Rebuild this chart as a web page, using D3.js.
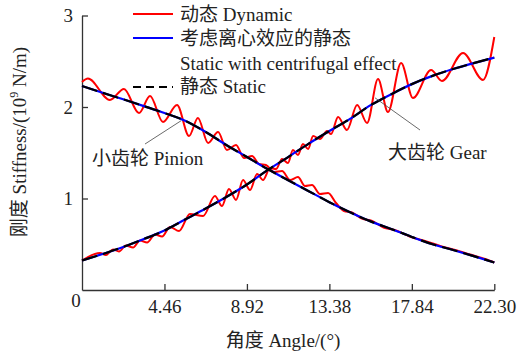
<!DOCTYPE html>
<html>
<head>
<meta charset="utf-8">
<script src="https://cdn.jsdelivr.net/npm/d3@7"></script>
<style>
  html, body { margin: 0; padding: 0; background: #fff; }
  svg text { font-family: "Liberation Serif", "Times New Roman", "Noto Sans CJK SC", serif; fill: #222; }
</style>
</head>
<body>
<svg id="chart" width="527" height="358"></svg>
<script>
// Angle grid (deg) for the static stiffness curves
const angleGrid = [0, 1.115, 2.23, 3.345, 4.46, 5.575, 6.69, 7.805, 8.92, 10.035, 11.15,
  12.265, 13.38, 14.495, 15.61, 16.725, 17.84, 18.955, 20.07, 21.185, 22.30];

// Static stiffness with centrifugal effect (10^9 N/m)
const pinionCentrifugal = [2.23, 2.155, 2.084, 2.01, 1.934, 1.85, 1.727, 1.585, 1.454, 1.322, 1.20,
  1.08, 0.96, 0.85, 0.75, 0.667, 0.58, 0.50, 0.437, 0.37, 0.30];
const gearCentrifugal = [0.322, 0.393, 0.47, 0.557, 0.65, 0.77, 0.89, 1.016, 1.153, 1.31, 1.453,
  1.60, 1.738, 1.87, 2.02, 2.14, 2.25, 2.34, 2.415, 2.48, 2.54];

// Static stiffness (10^9 N/m)
const pinionStatic = [2.23, 2.155, 2.084, 2.01, 1.934, 1.85, 1.727, 1.585, 1.454, 1.322, 1.20,
  1.08, 0.96, 0.85, 0.75, 0.667, 0.58, 0.50, 0.437, 0.37, 0.30];
const gearStatic = [0.322, 0.393, 0.47, 0.557, 0.65, 0.77, 0.89, 1.016, 1.153, 1.31, 1.453,
  1.60, 1.738, 1.87, 2.02, 2.14, 2.25, 2.34, 2.415, 2.48, 2.54];

// Dynamic stiffness, pinion: angles and values at the turning points of the oscillation
const pinionDynAngle = [0, 0.32, 1.51, 2.27, 3.08, 3.68, 4.38, 5.14, 5.79, 6.27, 6.82, 7.36, 7.84,
  8.33, 8.76, 9.20, 9.57, 9.95, 10.39, 10.82, 11.25, 11.68, 12.06, 12.44, 12.87, 13.31, 13.74,
  14.17, 14.60, 15.14, 15.69, 16.31, 16.91, 17.72, 18.55, 19.37, 20.18, 20.99, 21.80, 22.30];
const pinionDynValue = [2.273, 2.311, 2.077, 2.197, 1.934, 2.120, 1.836, 2.022, 1.683, 1.880, 1.607,
  1.727, 1.530, 1.585, 1.443, 1.464, 1.377, 1.366, 1.290, 1.301, 1.202, 1.235, 1.137, 1.148, 1.049,
  1.060, 0.951, 0.863, 0.847, 0.781, 0.754, 0.683, 0.656, 0.585, 0.536, 0.481, 0.437, 0.388, 0.339, 0.301];

// Dynamic stiffness, gear
const gearDynAngle = [0, 0.97, 1.30, 1.68, 2.00, 2.38, 2.76, 3.14, 3.52, 3.95, 4.33, 4.76, 5.25,
  5.84, 6.55, 7.19, 7.57, 7.95, 8.33, 8.71, 9.09, 9.47, 9.79, 10.17, 10.49, 10.82, 11.14, 11.41,
  11.68, 11.95, 12.23, 12.50, 12.87, 13.25, 13.47, 13.85, 14.33, 14.88, 15.42, 16.01, 16.55, 17.26,
  17.90, 18.88, 19.47, 20.61, 21.69, 22.30];
const gearDynValue = [0.322, 0.404, 0.383, 0.443, 0.421, 0.486, 0.464, 0.541, 0.519, 0.607, 0.585,
  0.689, 0.645, 0.831, 0.809, 1.027, 0.918, 1.104, 0.984, 1.202, 1.093, 1.268, 1.202, 1.333, 1.322,
  1.432, 1.388, 1.530, 1.475, 1.596, 1.541, 1.683, 1.650, 1.738, 1.705, 1.891, 1.749, 2.022, 1.825,
  2.306, 1.945, 2.481, 2.098, 2.404, 2.284, 2.590, 2.295, 2.765];

// Axis ticks
const xTickValues = [4.46, 8.92, 13.38, 17.84, 22.30];
const xTickLabels = ["4.46", "8.92", "13.38", "17.84", "22.30"];
const yTickValues = [1, 2, 3];

// Legend entries
const legendItems = [
  { lines: ["动态 Dynamic"], color: "#ff0000", dash: null },
  { lines: ["考虑离心效应的静态", "Static with centrifugal effect"], color: "#0000ff", dash: null },
  { lines: ["静态 Static"], color: "#000000", dash: "8,5" }
];

const svg = d3.select("#chart");
const FONT = 19;

const x = d3.scaleLinear().domain([0, 22.30]).range([82, 494.3]);
const y = d3.scaleLinear().domain([0, 3]).range([290, 15.5]);

const zipPts = (xs, ys) => xs.map((a, i) => [a, ys[i]]);
const line = d3.line().x(d => x(d[0])).y(d => y(d[1])).curve(d3.curveMonotoneX);

// Axes: left and bottom only, ticks pointing inward
const yAxis = d3.axisLeft(y).tickValues(yTickValues).tickFormat(d3.format("d"))
  .tickSizeInner(-6).tickSizeOuter(0).tickPadding(9);
const xAxis = d3.axisBottom(x).tickValues(xTickValues).tickFormat((d, i) => xTickLabels[i])
  .tickSizeInner(-6).tickSizeOuter(0).tickPadding(10);

const gy = svg.append("g").attr("transform", "translate(82,0)").call(yAxis);
const gx = svg.append("g").attr("transform", "translate(0,290)").call(xAxis);
[gx, gy].forEach(g => {
  g.select(".domain").attr("stroke", "#333").attr("stroke-width", 1.3);
  g.selectAll(".tick line").attr("stroke", "#333").attr("stroke-width", 1.3);
  g.selectAll(".tick text").attr("font-size", FONT).attr("fill", "#222")
    .attr("font-family", null);
});

// Shared origin label
svg.append("text").attr("x", x(0) - 6).attr("y", 307).attr("text-anchor", "middle")
  .attr("font-size", FONT).text("0");

// Axis titles
svg.append("text").attr("x", 283).attr("y", 347).attr("text-anchor", "middle")
  .attr("font-size", FONT).text("角度 Angle/(°)");

const yTitle = svg.append("text").attr("transform", "translate(26,142) rotate(-90)")
  .attr("text-anchor", "middle").attr("font-size", FONT);
yTitle.append("tspan").text("刚度 Stiffness/(10");
yTitle.append("tspan").attr("font-size", 12).attr("dy", -8).text("9");
yTitle.append("tspan").attr("dy", 8).text(" N/m)");

// Static curves: solid blue (with centrifugal effect) under dashed black (static)
const series = [
  { v: pinionCentrifugal, color: "#0000ff", dash: null },
  { v: gearCentrifugal, color: "#0000ff", dash: null },
  { v: pinionStatic, color: "#000000", dash: "16,6" },
  { v: gearStatic, color: "#000000", dash: "16,6" }
];

// Dynamic curves in red, drawn first so the static lines remain visible on top
[[pinionDynAngle, pinionDynValue], [gearDynAngle, gearDynValue]].forEach(([a, v]) => {
  svg.append("path").datum(zipPts(a, v)).attr("d", line)
    .attr("fill", "none").attr("stroke", "#ff0000").attr("stroke-width", 2);
});

series.forEach(s => {
  svg.append("path").datum(zipPts(angleGrid, s.v)).attr("d", line)
    .attr("fill", "none").attr("stroke", s.color).attr("stroke-width", 2.2)
    .attr("stroke-dasharray", s.dash);
});

// Legend
const legendBaselines = [[21], [45, 70], [93]];
const legendLineY = [14, 38, 87];
legendItems.forEach((item, i) => {
  svg.append("line").attr("x1", 133).attr("x2", 173)
    .attr("y1", legendLineY[i]).attr("y2", legendLineY[i])
    .attr("stroke", item.color).attr("stroke-width", 2)
    .attr("stroke-dasharray", item.dash);
  item.lines.forEach((t, j) => {
    svg.append("text").attr("x", 180).attr("y", legendBaselines[i][j])
      .attr("font-size", FONT).text(t);
  });
});

// Curve annotations with leader lines
const notes = [
  { text: "小齿轮 Pinion", tx: 92, ty: 165, from: [145, 144], at: [5.36, pinionCentrifugal[5]] },
  { text: "大齿轮 Gear", tx: 388, ty: 159, from: [420, 130], at: [15.85, 2.10] }
];
notes.forEach(n => {
  svg.append("line").attr("x1", n.from[0]).attr("y1", n.from[1])
    .attr("x2", x(n.at[0])).attr("y2", y(n.at[1]))
    .attr("stroke", "#444").attr("stroke-width", 0.8);
  svg.append("text").attr("x", n.tx).attr("y", n.ty).attr("font-size", FONT).text(n.text);
});
</script>
</body>
</html>
